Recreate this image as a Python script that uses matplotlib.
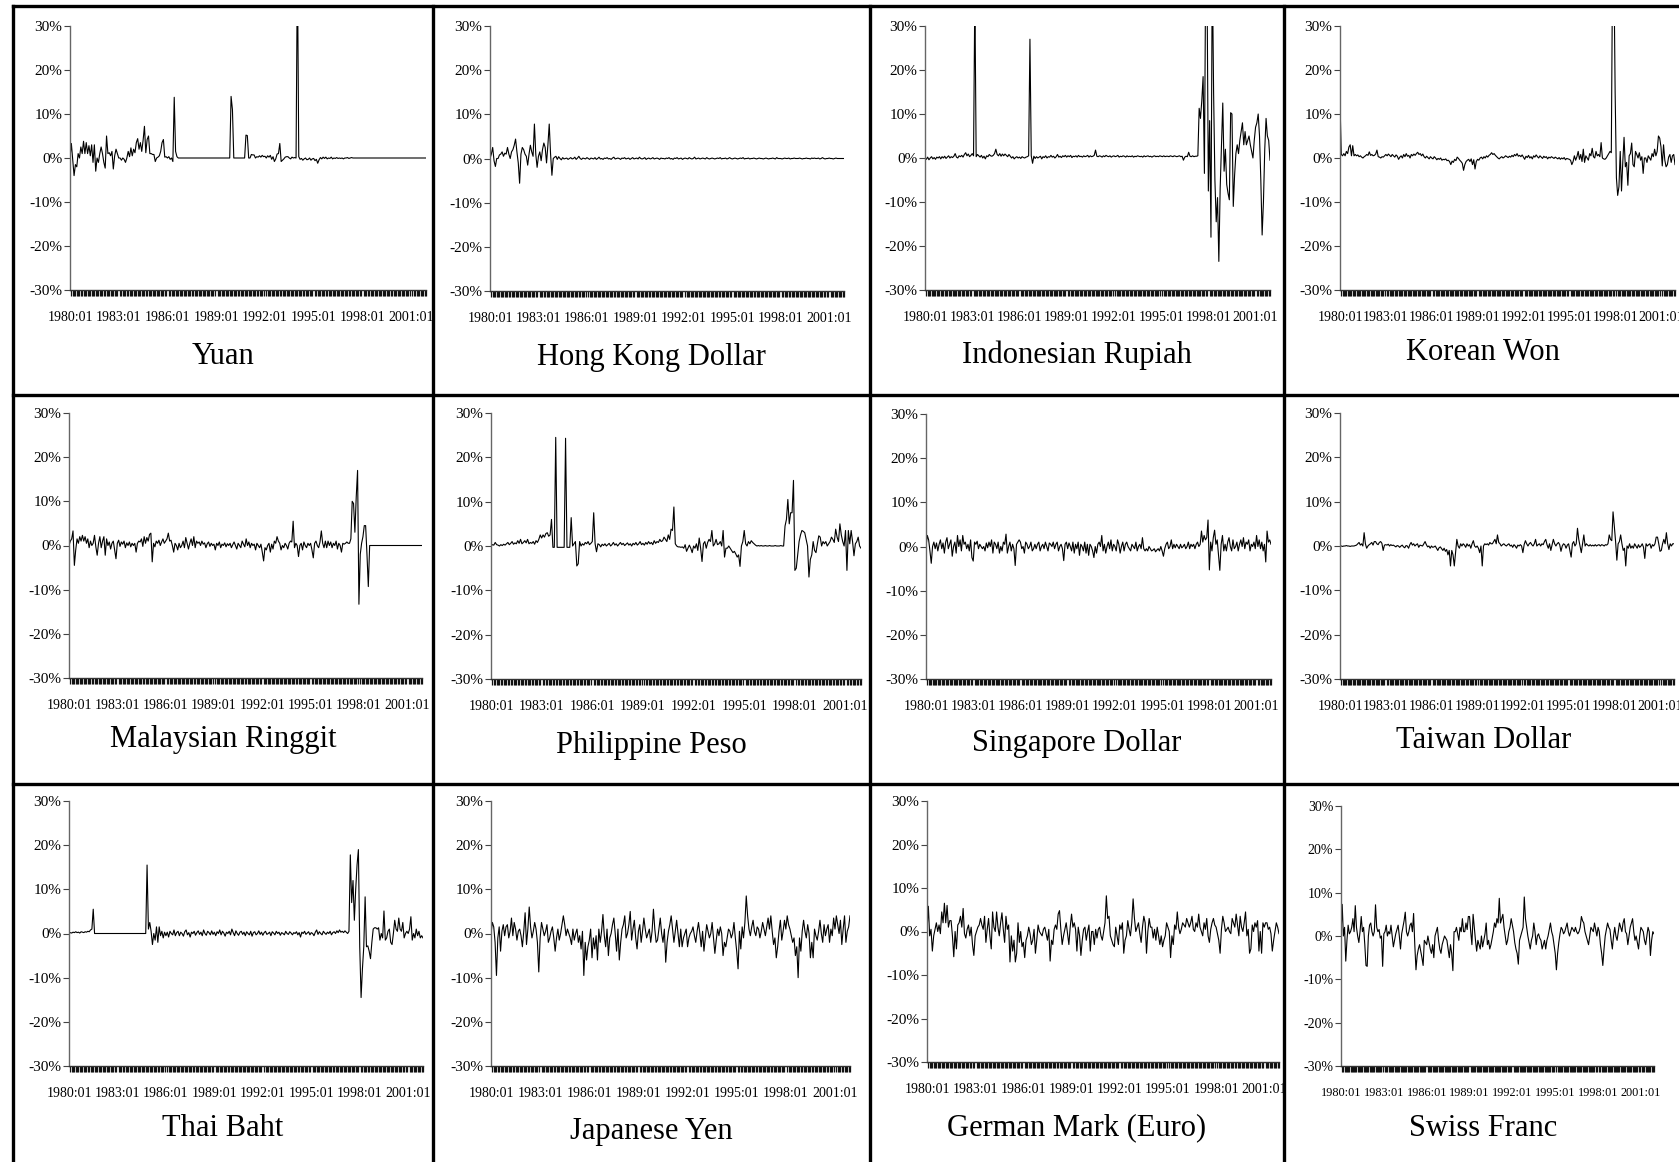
import matplotlib
matplotlib.use("Agg")
import matplotlib.pyplot as plt
import numpy as np
from matplotlib.transforms import Bbox, TransformedBbox

plt.rcParams['font.family'] = ['Liberation Serif', 'DejaVu Serif']

# monthly % change, 1980:01 - 2001:12 (264 months), one row per year
yuan = [
    0.0, 3.3, -0.5, -4.0, -1.5, -2.0, 1.0, 0.0, 2.5, 1.0, 3.8, 1.0,
    3.5, 1.0, 2.8, 0.5, 3.0, -1.0, 3.0, -3.0, 0.0, -1.0, 1.0, 2.5,
    1.0, -1.0, -2.3, 5.0, 1.0, 1.2, 0.5, 1.5, -2.5, 0.5, 2.0, 1.0,
    0.0, 0.0, -0.5, 0.0, -0.3, -1.0, 0.0, 1.5, 0.3, 2.3, 0.5, 2.0,
    1.2, 3.5, 4.4, 2.0, 3.5, 1.5, 4.0, 7.2, 1.2, 4.2, 5.0, 1.0,
    1.0, 0.8, 0.8, -0.8, 0.0, 0.2, 0.5, 1.5, 3.5, 4.2, 0.2, 0.3,
    0.0, 0.3, -0.3, 0.0, -0.8, 13.8, 1.5, 0.3, 0.0, 0.0, 0.0, 0.0,
    0.0, 0.0, 0.0, 0.0, 0.0, 0.0, 0.0, 0.0, 0.0, 0.0, 0.0, 0.0,
    0.0, 0.0, 0.0, 0.0, 0.0, 0.0, 0.0, 0.0, 0.0, 0.0, 0.0, 0.0,
    0.0, 0.0, 0.0, 0.0, 0.0, 0.0, 0.0, 0.0, 0.0, 0.0, 0.0, 14.0,
    11.0, 0.0, 0.0, 0.0, 0.0, 0.0, 0.0, 0.0, 0.0, 0.0, 5.2, 5.1,
    0.0, 0.0, 0.8, 0.7, 0.7, 0.0, 0.3, 0.2, 0.5, 0.2, 0.6, 0.3,
    0.4, 0.0, 0.5, 0.2, 0.6, -0.3, 0.3, -0.8, -0.2, 0.9, 1.0, 3.3,
    -0.8, -0.5, -0.2, 0.2, 0.3, 0.3, 0.0, -0.2, 0.2, 0.0, 0.1, 0.0,
    45.0, 0.3, -0.3, -0.1, -0.5, -0.2, 0.0, -0.4, -0.3, 0.0, -0.5, -0.2,
    -0.1, -0.6, -0.3, -1.2, -0.4, 0.1, -0.2, 0.2, -0.1, 0.2, -0.2, 0.0,
    -0.1, 0.2, -0.2, 0.0, -0.1, 0.1, -0.1, 0.0, -0.1, 0.0, -0.2, 0.0,
    0.0, 0.1, -0.1, 0.0, 0.1, 0.0, 0.0, 0.0, 0.0, 0.0, 0.0, 0.0,
    0.0, 0.0, 0.0, 0.0, 0.0, 0.0, 0.0, 0.0, 0.0, 0.0, 0.0, 0.0,
    0.0, 0.0, 0.0, 0.0, 0.0, 0.0, 0.0, 0.0, 0.0, 0.0, 0.0, 0.0,
    0.0, 0.0, 0.0, 0.0, 0.0, 0.0, 0.0, 0.0, 0.0, 0.0, 0.0, 0.0,
    0.0, 0.0, 0.0, 0.0, 0.0, 0.0, 0.0, 0.0, 0.0, 0.0, 0.0, 0.0,
]

hkd = [
    0.0, 1.0, 2.5, -0.5, -1.8, 0.0, 0.0, 0.8, 1.0, 1.5, 0.5, 1.2,
    1.0, 2.5, 1.0, 0.0, 1.5, 2.0, 3.0, 4.4, 1.5, -1.0, -5.6, 1.0,
    2.5, 2.0, 1.0, 0.5, -1.5, 1.0, 3.0, 1.5, 0.5, 7.8, 1.0, -2.0,
    0.5, 1.5, -0.5, 2.0, 3.5, 2.5, -1.0, 3.0, 7.8, 1.0, -3.8, 0.0,
    0.3, 0.5, -0.2, 0.4, 0.0, -0.3, 0.2, -0.1, 0.0, 0.1, -0.2, 0.0,
    0.2, -0.1, 0.0, 0.3, -0.2, 0.1, 0.5, 0.0, -0.2, 0.1, 0.0, -0.1,
    0.2, 0.0, -0.2, 0.1, 0.0, -0.1, 0.2, -0.2, 0.0, 0.3, -0.1, 0.0,
    -0.2, 0.1, 0.0, 0.2, -0.1, 0.0, -0.2, 0.1, 0.3, -0.1, 0.0, 0.1,
    0.0, -0.2, 0.1, 0.0, 0.2, -0.1, 0.0, 0.1, -0.2, 0.0, 0.2, -0.1,
    0.0, 0.1, -0.1, 0.3, 0.0, -0.1, 0.0, 0.2, -0.2, 0.0, 0.1, -0.1,
    0.0, 0.2, -0.1, 0.0, 0.1, 0.0, -0.2, 0.1, 0.0, 0.0, -0.1, 0.1,
    0.0, 0.2, -0.1, 0.0, -0.2, 0.1, 0.0, 0.2, -0.1, 0.0, 0.1, -0.2,
    0.0, 0.1, 0.0, -0.1, 0.2, 0.0, -0.1, 0.0, 0.3, -0.1, 0.0, 0.1,
    -0.1, 0.0, 0.1, 0.0, -0.1, 0.2, 0.0, -0.1, 0.0, 0.1, 0.0, -0.1,
    0.0, 0.1, 0.0, 0.2, -0.1, 0.0, 0.0, 0.1, -0.1, 0.0, 0.2, 0.0,
    -0.1, 0.0, 0.1, 0.0, -0.1, 0.0, 0.1, 0.0, 0.2, -0.1, 0.0, 0.0,
    0.1, -0.1, 0.0, 0.0, 0.1, 0.0, -0.1, 0.0, 0.1, 0.0, 0.0, -0.1,
    0.0, 0.1, 0.0, -0.1, 0.0, 0.0, 0.1, 0.0, -0.1, 0.2, 0.0, 0.0,
    0.0, -0.1, 0.0, 0.1, 0.0, 0.0, 0.1, -0.1, 0.0, 0.0, 0.1, 0.0,
    0.0, 0.0, 0.1, 0.0, -0.1, 0.0, 0.0, 0.1, 0.0, 0.0, -0.1, 0.1,
    0.0, 0.1, 0.0, 0.0, 0.1, -0.1, 0.0, 0.2, 0.0, -0.1, 0.0, 0.0,
    0.1, 0.0, 0.0, -0.1, 0.0, 0.1, 0.0, 0.0, 0.0, 0.0, 0.0, 0.0,
]

idr = [
    0.0, -0.3, 0.2, -0.4, 0.0, 0.3, -0.2, 0.1, -0.3, 0.2, 0.0, 0.3,
    -0.2, 0.3, 0.0, 0.4, -0.1, 0.2, 0.5, 0.0, 0.3, 0.1, 0.4, 1.0,
    0.2, 0.0, 0.5, 0.3, 0.6, 0.2, 0.8, 1.2, 0.5, 0.9, 0.3, 0.6,
    1.0, 0.5, 38.0, 0.3, 0.8, 0.5, 0.2, 0.6, 0.0, 0.4, -0.2, 0.5,
    0.3, 0.8, 0.5, 0.4, 0.6, 1.0, 2.0, 0.8, 0.5, 1.0, 0.4, 0.9,
    0.5, 0.9, 0.6, 0.3, 0.8, 0.4, 0.0, 0.3, -0.2, 0.1, 0.3, 0.0,
    0.2, -0.1, 0.3, 0.1, 0.0, 0.2, 0.3, 0.5, 27.0, 0.5, -1.2, 0.4,
    -0.1, 0.3, 0.0, 0.2, 0.4, -0.2, 0.3, 0.1, 0.5, 0.0, 0.3, 0.2,
    0.6, 0.2, 0.4, 0.0, 0.3, 0.8, 0.2, 0.4, 0.1, 0.5, 0.3, 0.6,
    0.2, 0.5, 0.3, 0.6, 0.1, 0.4, 0.3, 0.5, 0.2, 0.6, 0.3, 0.4,
    0.2, 0.5, 0.3, 0.4, 0.6, 0.2, 0.5, 0.3, 0.4, 0.6, 1.8, 0.4,
    0.3, 0.5, 0.4, 0.2, 0.5, 0.3, 0.6, 0.4, 0.3, 0.5, 0.2, 0.4,
    0.5, 0.3, 0.4, 0.6, 0.2, 0.4, 0.3, 0.5, 0.4, 0.2, 0.5, 0.3,
    0.4, 0.3, 0.5, 0.2, 0.4, 0.3, 0.5, 0.4, 0.3, 0.4, 0.2, 0.5,
    0.3, 0.4, 0.5, 0.3, 0.4, 0.2, 0.4, 0.5, 0.3, 0.4, 0.3, 0.5,
    0.4, 0.3, 0.5, 0.3, 0.4, 0.4, 0.3, 0.5, 0.4, 0.3, 0.5, 0.4,
    0.3, 0.4, 0.5, 0.3, 0.4, -0.5, 0.2, 0.4, 0.3, 1.3, 0.4, 0.3,
    0.5, 0.3, 0.4, 0.4, 0.5, 11.3, 9.0, 13.0, 18.5, -3.5, 45.0, 40.0,
    -7.5, 8.5, -18.0, 45.0, 15.0, -5.0, -14.5, -9.0, -23.5, -7.0, 3.0, 12.5,
    -3.0, 2.0, -6.0, -8.0, -9.5, 10.3, 10.0, -11.0, -4.0, 1.0, 3.0, 1.0,
    4.0, 6.0, 8.0, 3.0, 6.0, 3.0, 4.0, 5.0, 3.0, 1.5, 0.0, 4.0,
    7.0, 8.0, 10.0, 5.0, -5.0, -17.5, -10.0, 2.0, 9.0, 5.0, 4.0, -0.5,
]

krw = [
    12.7, 0.8, 0.5, 1.0, 0.5, 1.5, 1.0, 2.5, 3.0, 0.5, 2.8, 0.5,
    0.8, 0.5, 0.7, 0.3, 0.5, 0.2, 0.0, 0.3, 0.5, 0.8, 0.6, 1.4,
    0.6, 0.8, 0.5, 0.6, 0.9, 1.8, 0.3, 0.2, 0.0, 0.3, 0.2, 0.5,
    0.8, 0.5, 0.9, 0.6, 0.3, 0.8, 0.5, 0.2, 0.7, 0.4, -0.3, 0.2,
    0.5, 0.0, 0.8, 0.3, 1.0, 0.4, 0.6, 0.0, 0.8, 0.5, 0.9, 0.6,
    1.0, 1.3, 0.8, 1.0, 0.5, 0.9, 0.3, 0.0, 0.4, 0.1, -0.2, 0.3,
    0.0, -0.2, 0.3, 0.0, -0.4, -0.1, -0.3, 0.0, -0.5, -0.3, -0.4, -0.2,
    -0.6, -0.5, -0.8, -1.5, -0.7, -1.0, -0.3, -0.6, 0.2, -0.1, -0.5, -0.8,
    -1.2, -2.8, -1.5, -0.8, -0.5, -0.3, -0.8, -0.2, -1.5, -0.4, -2.5, -0.8,
    -0.3, -0.5, 0.0, 0.2, -0.2, 0.3, 0.0, 0.5, 0.2, 0.6, 0.8, 1.2,
    0.8, 1.0, 0.6, 0.3, 0.0, -0.2, 0.1, 0.3, 0.0, 0.2, 0.5, 0.3,
    0.1, 0.4, 0.2, 0.6, 0.3, 0.8, 0.5, 1.0, 0.4, 0.6, 0.3, 0.7,
    0.2, -0.3, 0.4, 0.1, 0.6, 0.0, 0.3, -0.2, 0.5, 0.2, 0.7, 0.3,
    0.0, 0.5, 0.2, -0.1, 0.4, 0.1, 0.3, -0.2, 0.2, 0.0, 0.3, 0.1,
    -0.1, 0.2, 0.0, -0.2, 0.1, -0.3, 0.0, -0.2, 0.1, -0.4, -0.1, -0.2,
    -0.3, -0.5, -1.5, -0.8, 0.5, -0.5, 0.3, 1.5, -0.3, 0.8, -0.8, 2.0,
    -1.0, 0.5, 0.0, -0.5, 1.0, 0.5, 2.2, 0.3, 0.0, 1.5, 0.5, 0.8,
    0.3, 3.5, 0.0, -0.2, -0.3, 0.0, 0.5, 1.0, 1.5, 1.2, 45.0, 45.0,
    15.0, -4.5, -8.5, -6.5, 1.5, -7.5, -1.0, 4.7, -2.0, -1.0, -6.2, 0.5,
    1.0, 3.4, -1.5, -2.0, 1.5, 0.8, 0.0, 1.2, -0.5, 0.3, -3.5, 0.0,
    0.0, -1.0, 0.5, 0.0, -0.5, 1.0, 0.3, 2.0, 0.5, 1.5, 5.0, 4.5,
    2.5, -1.8, 3.0, -0.5, -2.0, -1.5, 0.2, 0.8, -1.0, 0.5, 0.8, -1.5,
]

myr = [
    0.0, 1.0, 1.5, 3.3, -4.5, -1.0, 1.5, 0.5, 2.0, 1.0, 2.3, 1.0,
    2.0, 0.5, 1.5, -0.5, 1.0, 0.0, 0.5, 2.3, -0.3, -2.2, 0.5, 2.0,
    -0.5, 1.0, 2.0, -2.2, 1.5, 0.0, 0.8, -0.8, 0.5, 1.0, -1.0, -3.0,
    0.5, 1.2, -0.2, 0.8, 0.3, 1.0, -0.5, 0.6, 0.0, 0.8, -0.3, 0.5,
    0.0, 0.5, -1.5, 0.5, 1.0, 0.8, 1.5, -0.2, 2.0, 0.5, 1.8, 1.0,
    2.5, 2.8, -3.7, 0.5, -0.3, 1.0, 0.5, 1.2, 0.0, 0.8, 1.5, 0.5,
    1.0, 1.5, 2.8, 1.0, 1.2, 0.0, -1.5, 0.5, 0.0, -1.0, 0.5, -0.5,
    0.0, 1.0, -0.5, 1.8, 0.5, -0.8, 0.5, 1.5, 0.0, 2.0, -0.5, 1.0,
    0.5, 0.8, 0.0, 1.0, 0.3, 0.6, -0.5, 0.4, 0.8, -0.2, 0.5, 0.0,
    0.3, -1.0, 0.5, 0.0, 0.8, -0.5, 0.3, 0.0, 0.6, -0.3, 0.4, 0.0,
    0.5, -0.5, 0.2, 0.8, 0.0, -0.8, 0.5, 0.0, -0.5, 1.0, 0.3, -0.3,
    1.5, 0.0, 0.8, -0.5, 0.5, 0.0, 0.3, -1.0, 0.5, 0.0, -0.5, 0.3,
    -1.5, -3.5, -0.5, -1.0, 0.0, 0.5, -1.5, 0.3, -0.8, 1.0, 0.5, 2.0,
    1.0, 0.5, -1.0, 0.0, -0.5, 0.5, 0.0, -0.8, 0.5, 1.0, 0.8, 5.5,
    -0.5, 0.5, 0.0, -2.5, 0.0, 0.5, -1.0, 0.8, 0.0, -0.5, 0.5, 0.0,
    0.5, -1.0, -2.8, 0.5, 1.0, 0.0, -0.5, 0.8, 3.3, 0.5, -0.5, 1.0,
    -0.5, 1.0, 0.0, 0.8, -0.5, 0.5, 0.0, 1.0, -0.8, 0.5, 0.0, -1.5,
    0.5, 0.3, 0.5, 0.8, 0.5, 0.5, 1.5, 10.0, 9.5, 3.0, 11.0, 17.0,
    -13.3, -2.0, 0.5, 2.0, 4.5, 4.5, -2.0, -9.3, 0.0, 0.0, 0.0, 0.0,
    0.0, 0.0, 0.0, 0.0, 0.0, 0.0, 0.0, 0.0, 0.0, 0.0, 0.0, 0.0,
    0.0, 0.0, 0.0, 0.0, 0.0, 0.0, 0.0, 0.0, 0.0, 0.0, 0.0, 0.0,
    0.0, 0.0, 0.0, 0.0, 0.0, 0.0, 0.0, 0.0, 0.0, 0.0, 0.0, 0.0,
]

php = [
    0.0, 0.3, 0.2, 0.8, 0.3, 0.2, 0.0, 0.3, 0.1, 0.4, 0.2, 0.5,
    0.8, 0.3, 0.6, 1.0, 0.4, 0.7, 0.5, 1.2, 0.6, 1.5, 0.5, 0.8,
    1.2, 0.7, 1.5, 0.5, 0.8, 0.6, 1.0, 0.4, 1.2, 0.8, 1.5, 2.5,
    1.8, 2.5, 2.0, 2.8, 3.0, 2.2, 2.5, 6.0, -0.3, -0.3, 24.5, -0.3,
    -0.3, -0.3, -0.3, -0.3, -0.3, 24.3, -0.3, -0.3, -0.3, 6.4, 0.0, 0.5,
    1.0, -4.5, -4.0, 1.0, 0.0, 0.5, 0.2, 0.8, 0.5, 1.0, 0.3, 0.6,
    1.0, 7.5, 0.5, -1.3, 0.5, 0.3, -0.2, 0.4, 0.1, 0.5, 0.0, 0.3,
    0.6, 0.0, 0.3, 0.8, 0.2, 0.5, 0.0, 0.4, 0.8, 0.3, 0.6, 0.1,
    0.4, 0.7, 0.2, 0.5, 0.0, 0.6, 0.3, 0.8, 0.2, 0.5, 1.0, 0.3,
    0.6, 0.2, 0.8, 0.4, 1.0, 0.5, 0.8, 0.3, 1.2, 0.6, 1.0, 0.8,
    1.5, 1.0, 1.2, 2.0, 1.5, 1.0, 2.5, 1.5, 3.8, 3.5, 8.8, 0.5,
    0.0, -0.2, -0.2, -0.3, -0.2, -0.5, 0.3, -1.2, -0.5, 0.2, -0.5, -1.5,
    0.0, -0.5, 0.5, -1.0, 1.8, -0.5, -3.5, 0.5, 1.0, -0.5, 0.8, 1.5,
    1.0, 3.5, 0.0, 0.5, 1.5, 0.3, 0.5, 1.0, 0.0, 3.5, -2.5, -0.5,
    -0.5, 0.0, -0.5, -1.0, -1.5, -1.2, -1.8, -2.5, -2.0, -4.6, 0.0, 1.0,
    3.5, 0.5, 0.0, 1.0, 0.5, 1.2, 0.8, 0.5, 0.2, 0.0, 0.1, 0.0,
    0.1, 0.0, 0.0, 0.1, 0.0, 0.0, 0.1, 0.0, 0.0, 0.0, 0.1, 0.0,
    0.0, 0.0, 0.1, 0.0, 0.0, 4.5, 6.0, 10.5, 5.0, 7.5, 7.5, 14.8,
    -5.5, -5.0, -2.0, 1.0, 2.5, 3.5, 3.3, 3.0, 1.5, 0.0, -7.0, -3.0,
    -2.0, 1.0, -1.0, -1.5, 0.5, 2.3, 2.0, 0.0, 1.0, 0.5, 1.0, 0.0,
    0.5, 1.0, 2.0, 1.5, 0.8, 3.8, 2.0, 1.0, 5.0, 2.5, 1.0, 0.0,
    3.5, -5.5, 3.5, 0.5, 3.5, 1.0, -2.2, 0.5, 1.0, 2.0, 0.0, -0.5,
]

sgd = [
    0.0, 2.5, 1.5, -1.0, -3.8, 0.0, 1.0, -0.5, 0.8, -1.0, 0.5, 1.5,
    -0.5, 0.8, -1.5, 1.0, 2.0, -0.5, 0.5, 1.5, -2.2, 0.0, 1.0, -1.5,
    2.5, 0.0, 1.5, -1.0, 2.5, 0.5, 1.0, -0.5, 0.5, -1.0, 1.5, -2.5,
    -3.3, 1.0, 0.5, 1.2, -0.5, 0.5, 0.0, -0.5, 0.0, -1.0, 0.8, -0.3,
    1.0, 0.0, 1.5, -1.5, 1.0, 0.5, -0.5, 1.0, -1.5, 0.0, -1.0, 1.0,
    0.5, 2.8, -1.5, 0.0, 1.0, -1.0, 0.5, -0.5, -4.3, 0.5, 1.0, 1.5,
    1.0, -0.5, 0.0, -1.5, 1.0, 0.5, -0.5, 0.0, 1.0, -1.0, -0.5, 0.5,
    -0.5, 0.5, 1.0, -1.0, 0.0, 0.5, -0.5, 1.0, 0.0, -1.0, 0.8, 0.5,
    0.0, 1.0, -0.5, 0.5, 1.0, -1.0, 0.0, 0.5, -0.5, -3.2, 0.5, 1.0,
    -0.5, 0.8, 0.0, -1.0, 1.0, -1.5, 0.5, -0.5, 1.0, -2.0, 0.5, 0.0,
    -1.0, 1.0, -1.5, 0.5, -2.0, 0.5, 0.0, -1.0, -2.5, 0.0, -1.5, 0.5,
    1.0, 0.0, 2.5, -1.0, 0.5, -1.5, 0.0, 1.0, -0.5, 1.5, -1.0, 0.5,
    0.0, -1.0, 1.5, 0.5, -1.5, 0.0, 1.0, -1.0, 0.5, 1.0, 0.0, -0.5,
    -1.0, 0.5, 0.0, -0.5, 1.0, -1.0, 0.0, 0.5, -0.5, 2.0, -0.5, -1.0,
    -0.5, -1.0, 0.0, -0.5, -1.0, -0.8, -0.5, -1.2, -0.8, -0.5, -1.0, 0.0,
    -1.0, -2.2, -0.5, 0.5, 1.0, -0.5, 0.0, 1.5, -0.5, 0.5, -0.3, 0.5,
    0.0, -0.5, 0.5, -0.3, 0.0, 0.5, -0.5, 0.0, 1.0, -0.5, 0.5, 0.0,
    0.5, -0.5, 0.5, 1.0, 0.0, 0.5, 3.5, 1.0, 2.5, 1.5, 2.0, 6.0,
    -5.3, 1.0, -1.0, 2.0, 3.7, 0.5, 1.5, -2.0, -5.4, 0.5, 2.5, -1.0,
    0.5, -1.0, 1.0, 2.0, 0.0, -1.0, 1.5, -0.5, 0.0, 1.0, -1.0, 0.5,
    1.5, 0.0, 2.0, -0.5, 1.0, 0.5, 1.5, -1.0, 0.5, 0.0, 1.0, -0.5,
    2.5, 0.0, 1.5, -0.5, 1.0, -1.0, 0.5, -3.5, 3.5, 1.0, 1.5, 0.5,
]

twd = [
    0.0, 0.0, -0.1, 0.0, 0.0, 0.1, 0.0, 0.0, -0.1, 0.0, 0.0, 0.0,
    0.1, 0.2, 0.5, 0.8, 0.2, 0.5, 0.0, 3.0, 0.5, -0.5, 0.0, 0.3,
    0.5, 0.8, 0.2, 1.0, 1.0, 0.5, 0.3, 0.8, 1.0, 0.6, -1.0, 0.2,
    0.3, 0.2, 0.4, 0.0, 0.3, 0.1, 0.2, 0.0, -0.2, 0.1, 0.0, -0.3,
    0.0, 0.2, -0.2, -0.4, 0.1, 0.0, -0.5, 0.3, 0.8, 0.2, 0.5, 0.0,
    0.3, 0.5, -0.3, 0.2, 0.1, 0.0, 0.5, 1.0, 0.3, -0.2, 0.0, -0.5,
    0.0, -0.3, -0.2, 0.0, -0.5, -1.0, -0.4, -0.2, -0.6, -1.0, -0.5, -1.2,
    -0.8, -2.0, -1.0, -4.5, -1.0, -2.0, -4.5, -1.5, 1.5, 0.0, -0.5, 0.5,
    0.0, 0.5, 0.2, -0.3, 0.5, 0.0, 0.3, -0.5, 0.5, 1.2, 0.0, -0.3,
    0.0, -0.5, -1.5, 0.0, -4.5, 0.0, 0.5, 0.3, 0.5, 0.2, 0.8, 0.5,
    0.5, 1.0, 1.5, 0.5, 2.5, 0.8, 0.5, 0.0, 0.3, 0.5, 0.2, 0.0,
    0.3, 0.5, 0.0, 0.2, -0.3, 0.3, 0.0, -0.5, 0.2, 0.0, 0.3, 0.0,
    -1.5, 0.3, 1.2, 0.5, 0.0, 0.5, 0.8, 0.3, 0.0, 0.5, 1.5, 0.0,
    0.3, 0.5, 0.0, 0.5, 0.3, 1.0, 1.5, 0.3, -0.5, 0.5, -1.0, 0.3,
    1.5, 0.5, 0.0, 0.5, 0.8, 0.3, -1.2, 0.0, 0.5, 0.3, -0.5, 0.2,
    0.5, -1.0, -2.5, 0.5, 1.0, 0.0, 0.5, 4.0, 1.5, 0.0, -1.5, 0.5,
    2.5, 0.0, 0.5, 0.2, 0.0, 0.3, 0.0, 0.2, 0.0, 0.3, 0.0, 0.2,
    0.3, 0.0, 0.3, 0.2, 0.0, 0.3, 0.2, 0.5, 2.5, 1.5, 1.2, 7.7,
    4.5, 1.0, -3.2, 0.5, 1.0, 2.5, 0.5, -1.0, -0.5, -4.5, 0.0, -0.5,
    0.5, -0.5, 0.0, -0.5, 0.5, 0.0, -0.5, 0.3, -0.3, 0.0, 0.5, -0.3,
    -2.8, 0.5, 0.0, 0.3, 0.5, -0.5, 0.3, 0.0, 0.5, 2.0, 2.0, 0.5,
    -1.2, -1.0, 0.5, 1.5, 0.5, 3.0, 0.5, -0.8, 0.5, 0.0, 0.5, 0.5,
]

thb = [
    0.0, 0.2, 0.1, 0.3, 0.2, 0.4, 0.2, 0.3, 0.1, 0.4, 0.3, 0.2,
    0.4, 0.3, 0.5, 0.4, 0.8, 1.0, 5.5, 0.0, 0.0, 0.0, 0.0, 0.0,
    0.0, 0.0, 0.0, 0.0, 0.0, 0.0, 0.0, 0.0, 0.0, 0.0, 0.0, 0.0,
    0.0, 0.0, 0.0, 0.0, 0.0, 0.0, 0.0, 0.0, 0.0, 0.0, 0.0, 0.0,
    0.0, 0.0, 0.0, 0.0, 0.0, 0.0, 0.0, 0.0, 0.0, 0.0, 15.5, 1.0,
    2.5, 0.5, -2.5, 0.0, -1.5, 1.5, -2.0, 1.5, -0.5, 0.5, -1.0, 0.3,
    -0.5, 0.3, -0.8, 0.5, 0.0, -0.3, 0.8, -0.5, 0.2, 0.5, -0.5, 0.3,
    0.0, -0.6, 0.4, 0.8, -0.3, 0.2, -0.8, 0.3, 0.0, 0.5, -0.4, 0.2,
    0.6, -0.2, 0.3, -0.5, 0.8, 0.0, -0.4, 0.5, 0.2, -0.3, 0.6, -0.2,
    0.3, -0.5, 0.4, 0.0, 0.8, -0.3, 0.5, 0.1, -0.6, 0.3, 0.0, 0.5,
    -0.3, 1.0, 0.2, -0.5, 0.6, 0.0, -0.4, 0.3, 0.5, -0.2, 0.3, -0.5,
    0.4, 0.0, -0.3, 0.5, -0.6, 0.2, 0.4, -0.3, 0.0, 0.6, -0.2, 0.3,
    -0.4, 0.2, 0.5, -0.2, 0.0, 0.3, -0.5, 0.4, 0.1, -0.3, 0.5, 0.0,
    0.3, -0.4, 0.2, 0.0, -0.3, 0.5, 0.0, -0.2, 0.4, 0.1, -0.3, 0.2,
    0.0, 0.4, -0.3, 0.2, -0.8, 0.3, 0.0, 0.5, -0.2, 0.1, 0.4, -0.3,
    0.2, 0.0, -0.5, 0.3, 0.8, -0.2, 0.4, 0.0, -0.3, 0.5, 0.1, -0.2,
    0.3, 0.0, 0.5, -0.3, 0.2, 0.4, 0.0, 0.6, 0.2, 0.8, 0.3, 0.5,
    0.2, 0.6, 0.3, 0.0, 0.5, 17.8, 7.0, 12.0, 3.0, 10.0, 15.5, 19.0,
    -3.0, -14.5, -8.0, -3.0, 8.3, -3.0, -2.8, -4.0, -5.7, -2.0, 1.0, 1.3,
    1.3, 1.0, 1.3, -1.5, 0.0, -1.0, 5.1, -1.5, -1.0, 0.5, 1.0, -2.0,
    -2.5, 0.0, 3.0, 1.0, 0.5, 3.5, 1.0, 0.5, 2.5, -1.0, 0.0, 0.5,
    0.0, 1.0, 3.8, -1.5, 0.0, -1.0, 1.0, -0.5, 0.5, -1.0, -0.5, -1.0,
]

jpy = [
    0.0, 2.5, 1.5, -2.0, -9.5, -1.0, 1.5, -4.0, 0.5, 2.0, -0.5, 1.5,
    2.0, -1.0, 0.5, 3.5, -0.5, 2.5, 1.0, -1.5, 0.5, 1.0, -0.5, -3.0,
    0.5, 4.7, -2.5, 1.0, 6.0, 1.5, -1.0, 0.5, 2.5, 1.0, -2.0, -8.7,
    -1.0, 2.5, 1.0, -0.5, 0.5, 2.0, -2.0, -1.0, 0.5, 1.5, -1.0, -4.0,
    -1.0, 1.0, -1.5, 0.0, 2.0, 4.0, 2.0, -0.5, 1.0, 0.0, -1.0, -2.5,
    1.0, -1.5, 0.0, 1.0, -2.0, -0.5, -3.5, 0.5, -9.5, -2.0, -6.0, -3.0,
    -1.5, 1.0, -5.5, -1.0, -3.5, -0.5, -6.0, 1.0, -2.0, 0.5, 4.3, -0.5,
    -3.0, 1.0, -5.0, -1.0, 0.0, 2.0, 3.5, 0.0, -4.0, 1.0, -6.0, -2.0,
    1.0, 2.0, 4.0, -1.0, 0.0, 2.0, 5.0, -1.5, 1.0, 3.0, -1.0, -3.5,
    0.5, 2.0, -2.0, 0.5, 3.5, 1.0, -1.0, 0.0, 1.0, -2.0, 0.5, 5.5,
    1.0, -2.0, -1.5, 1.0, 3.5, 0.0, -2.0, 1.0, -6.5, -2.0, 0.5, 2.0,
    4.0, 1.0, -2.0, 0.5, 3.0, 0.0, -3.0, 1.0, -3.0, -1.0, 0.0, 1.0,
    -3.0, -1.0, 0.0, 0.5, 1.5, -0.5, -2.0, 0.5, 2.5, 0.0, -3.0, 0.5,
    -4.0, -1.0, 2.0, 0.5, -1.0, 0.0, 2.5, -1.0, -4.5, -1.5, 1.0, -0.5,
    1.5, 0.0, -5.0, -2.0, -3.0, -1.0, 1.0, 0.5, -1.0, 0.0, 2.5, -1.0,
    -4.0, -8.0, 0.5, -3.5, 1.5, -1.0, 2.5, 8.5, 4.0, 1.0, -0.5, 1.5,
    3.0, 0.5, -0.5, 1.5, 1.0, -1.0, 0.5, 2.5, 1.0, -0.5, 1.5, 3.5,
    1.0, 4.0, 0.5, -2.5, -1.0, -5.5, -3.0, 0.5, 3.0, -1.5, 0.5, 3.0,
    1.0, 4.0, 2.0, 1.0, -0.5, -2.0, -1.0, -5.0, -3.0, -10.0, -1.0, -4.0,
    0.5, 3.0, 0.5, -1.0, 2.0, 0.0, -5.5, -2.0, -5.5, 1.0, -0.5, -1.5,
    0.5, 3.0, 0.0, -2.0, 2.0, -0.5, 1.0, 2.0, -2.0, 1.0, -0.5, 3.5,
    1.0, 4.0, 2.0, 0.0, 3.0, -2.5, 1.0, 4.0, -2.0, 0.5, 1.5, 4.0,
]

dem = [
    0.0, 5.8, -1.0, 0.5, -4.5, -1.0, 0.5, 2.0, 0.0, 1.5, -0.5, 4.5,
    2.0, 6.5, 2.0, 6.0, 1.0, 2.5, 2.5, -1.0, -5.8, 0.0, -4.0, 1.5,
    2.0, 3.5, 1.0, 5.3, -0.5, -1.5, 0.5, 1.5, -1.0, 1.0, -3.0, -5.5,
    -1.0, 0.0, 1.0, 1.5, 3.0, 1.5, 0.5, 3.5, -2.5, 0.5, 3.0, -1.0,
    -4.0, 4.5, 1.0, 0.0, 4.5, 1.0, -1.0, 2.0, 4.3, 0.5, -2.5, 3.5,
    0.5, 1.5, -7.0, -1.0, -4.5, -2.0, -7.0, -5.0, 2.0, -2.5, 0.0, -3.5,
    -2.5, -6.0, -2.0, -1.0, 1.0, -0.5, -3.0, -2.0, 0.5, -5.0, -2.0, 1.5,
    0.0, -0.5, -1.0, 0.5, 1.0, -0.5, -2.0, 0.5, -6.8, -2.0, -3.0, 0.5,
    1.5, 0.5, 4.0, 4.8, 0.5, -3.0, -1.0, 0.5, 2.0, -0.5, -3.0, 1.0,
    4.0, 1.0, 2.0, 0.5, -4.5, 1.0, -1.0, -5.5, -2.0, 0.5, 1.0, -2.0,
    0.0, 1.5, -4.5, 0.0, 0.0, -3.0, 0.5, -1.5, 0.5, 1.0, -1.0, -2.0,
    0.0, 2.0, 8.2, 3.0, 3.5, -1.0, -2.0, -3.0, -3.5, 1.0, -1.0, -3.0,
    1.5, 0.5, 2.0, -5.0, -2.0, -1.0, 2.5, 0.5, -1.0, 2.0, 7.5, 3.0,
    0.0, 1.0, 2.0, -0.5, -2.5, 1.0, 3.5, 2.0, -5.0, 0.0, 3.0, 1.0,
    1.0, -1.5, 0.5, -2.0, 1.0, -1.0, -3.0, -1.0, -3.5, -2.0, -1.0, 2.0,
    1.0, 0.0, -6.0, -1.0, -3.0, 1.5, 0.5, 4.5, 1.0, -0.5, 0.5, 2.0,
    1.5, 1.0, 3.0, 2.0, 1.0, 2.0, 3.5, 0.5, 0.0, 2.0, 1.0, 4.0,
    1.0, 0.0, -1.0, 2.0, 0.5, 3.0, -1.0, -2.5, 0.5, 2.0, 3.0, 1.5,
    1.0, -0.5, -2.0, -5.0, 0.5, 3.5, 2.0, 0.0, 0.5, 1.0, 0.0, -0.5,
    3.0, 2.0, 1.0, 4.0, 1.5, -1.0, 3.5, 1.0, 0.0, 2.0, 4.5, -1.0,
    0.5, -5.0, -4.0, 1.5, 0.0, 2.0, 1.0, 2.5, -4.5, 0.0, -5.0, 2.0,
    1.0, 2.0, 2.0, 0.5, 1.0, -0.5, -4.5, -2.0, 0.0, 2.0, 1.0, -0.5,
]

chf = [
    0.0, 7.3, 0.0, 2.0, -5.8, -1.0, 2.5, 0.5, 1.0, 2.0, 4.0, 1.0,
    7.0, 2.0, 0.0, -1.5, 1.0, 4.5, 1.0, 2.0, -2.0, -6.8, -7.0, 0.0,
    2.5, 3.0, 1.0, 0.0, 1.0, 7.2, 2.0, 1.0, 1.5, -0.5, 0.0, -7.0,
    0.5, 1.0, 2.5, 0.0, 1.0, 0.5, 2.5, 0.0, -2.5, -1.0, 0.5, 1.5,
    2.5, 0.0, -3.0, 0.5, 2.0, 3.5, 5.5, 1.0, 0.0, 1.0, 2.5, 3.0,
    1.0, 5.2, -2.0, -7.8, -4.5, -3.0, -2.0, -3.5, -5.0, -6.8, -1.0, -1.5,
    -2.0, 0.0, -1.5, -3.0, -4.0, -2.0, -5.0, 0.0, 1.0, 2.0, -1.0, -3.0,
    -4.0, -2.0, -1.0, 0.0, -0.5, -1.0, -3.0, -5.0, -2.0, -4.0, -8.0, 1.0,
    1.0, 2.0, 0.5, -1.0, 2.0, 1.0, 4.0, 1.0, 1.0, 3.0, 1.5, 4.5,
    4.5, 1.0, -2.0, 5.0, 2.0, -1.0, -3.5, -1.0, -2.0, -3.0, 0.0, -2.5,
    -1.0, 0.5, 3.0, -2.0, -1.0, -3.0, -2.0, -0.5, 1.0, 3.0, 2.0, 4.0,
    3.0, 8.7, 3.0, 4.0, 5.0, 2.0, 0.0, -2.0, -1.0, 1.0, 2.0, 4.0,
    2.5, 1.0, -1.5, -3.0, -4.0, -6.5, -1.0, 0.0, 1.0, 2.0, 9.0, 4.0,
    2.0, 0.0, -1.5, -3.0, -1.0, 0.0, 3.0, 1.0, -2.0, 0.0, 0.5, -0.5,
    -1.0, -3.0, -2.0, -1.0, -3.0, -1.0, 0.0, 1.5, 3.0, 1.0, 0.0, -2.0,
    -4.0, -7.8, -4.0, -1.5, 0.5, 2.0, 1.5, 0.5, 1.0, 2.0, 3.0, 1.0,
    0.0, 1.0, 2.0, 1.5, 1.0, 2.0, 1.0, 0.5, 1.0, 2.0, 4.5, 3.5,
    3.0, 1.0, 0.0, -1.0, -2.0, 0.0, 2.0, 1.5, 1.0, 3.0, 1.5, 0.0,
    2.0, 1.0, -2.0, -4.0, -6.8, -3.0, 0.0, 1.5, 3.0, 2.0, 1.5, -1.0,
    -3.0, 0.0, 2.0, 0.0, -1.0, 1.0, 3.0, 2.0, 1.0, 3.0, 4.0, 1.0,
    0.5, -2.0, 0.0, 2.0, 3.0, 4.0, 1.0, -1.0, 0.0, -1.5, -3.0, 0.0,
    2.0, 1.5, 1.0, -1.0, -2.0, 0.0, 2.0, 1.0, -4.5, -1.0, 1.0, 0.5,
]

x_labels = ["1980:01", "1983:01", "1986:01", "1989:01",
            "1992:01", "1995:01", "1998:01", "2001:01"]
y_ticks = [-30, -20, -10, 0, 10, 20, 30]
y_labels = ["-30%", "-20%", "-10%", "0%", "10%", "20%", "30%"]

W, H = 1679, 1162
fig = plt.figure(figsize=(W / 100, H / 100), dpi=100)

# grid cells (pixel edges)
col_edges = [13, 433, 870, 1284, 1679]
row_edges = [6, 395, 784, 1162]

# (title, data, axes x0, x1, ytop, ybottom, title x, title y)
panels = [
    ("Yuan", yuan, 70, 426, 26, 290, 223, 356),
    ("Hong Kong Dollar", hkd, 490, 844, 26, 291, 651, 358),
    ("Indonesian Rupiah", idr, 925, 1270, 26, 290, 1077, 355),
    ("Korean Won", krw, 1340, 1675, 26, 290, 1483, 353),
    ("Malaysian Ringgit", myr, 69, 422, 413, 678, 223, 740),
    ("Philippine Peso", php, 491, 861, 413, 679, 651, 745),
    ("Singapore Dollar", sgd, 926, 1271, 414, 679, 1077, 744),
    ("Taiwan Dollar", twd, 1340, 1674, 413, 679, 1484, 741),
    ("Thai Baht", thb, 69, 423, 801, 1066, 223, 1129),
    ("Japanese Yen", jpy, 491, 850, 801, 1066, 651, 1131),
    ("German Mark (Euro)", dem, 927, 1279, 801, 1062, 1077, 1128),
    ("Swiss Franc", chf, 1341, 1654, 806, 1066, 1483, 1129),
]

for i, (name, vals, x0, x1, yt, yb, tx, ty) in enumerate(panels):
    assert len(vals) == 264, (name, len(vals))
    row, col = i // 4, i % 4
    small = name == "Swiss Franc"
    ax = fig.add_axes([x0 / W, 1 - yb / H, (x1 - x0) / W, (yb - yt) / H])
    ax.plot(np.arange(len(vals)), vals, color="black", lw=0.8)
    ax.set_xlim(0, len(vals) - 1)
    ax.set_ylim(-30, 30)
    for s in ["top", "right"]:
        ax.spines[s].set_visible(False)
    ax.spines["left"].set_color("#666666")
    ax.spines["bottom"].set_color("#333333")
    ax.spines["left"].set_linewidth(1.0)
    ax.spines["bottom"].set_linewidth(1.0)

    ax.set_yticks(y_ticks)
    ax.set_yticklabels(y_labels, fontsize=10 if small else 11)
    ax.tick_params(axis="y", length=4, width=0.8, pad=1.5, color="#444444")

    ax.set_xticks(np.arange(0, 253, 36))
    ax.set_xticklabels(x_labels, fontsize=8.8 if small else 10)
    ax.set_xticks(np.arange(len(vals)), minor=True)
    ax.tick_params(axis="x", which="major", length=0, pad=15)
    ax.tick_params(axis="x", which="minor", length=4, width=0.9,
                   color="#111111", direction="out")

    cx0, cx1 = col_edges[col], col_edges[col + 1]
    cy0, cy1 = row_edges[row], row_edges[row + 1]
    cell = TransformedBbox(Bbox.from_extents(cx0 / W, 1 - cy1 / H, cx1 / W, 1 - cy0 / H),
                           fig.transFigure)
    for lab in ax.get_xticklabels():
        lab.set_clip_box(cell)
        lab.set_clip_on(True)

    fig.text(tx / W, 1 - ty / H, name, ha="center", va="center", fontsize=22)

# table border lines
for x in col_edges[:-1]:
    fig.add_artist(plt.Line2D([x / W, x / W], [0, 1 - 6 / H], color="black",
                              lw=2.4, transform=fig.transFigure))
for y in row_edges[:-1]:
    fig.add_artist(plt.Line2D([13 / W, 1], [1 - y / H, 1 - y / H], color="black",
                              lw=2.4, transform=fig.transFigure))

fig.savefig("out.png", dpi=100)
